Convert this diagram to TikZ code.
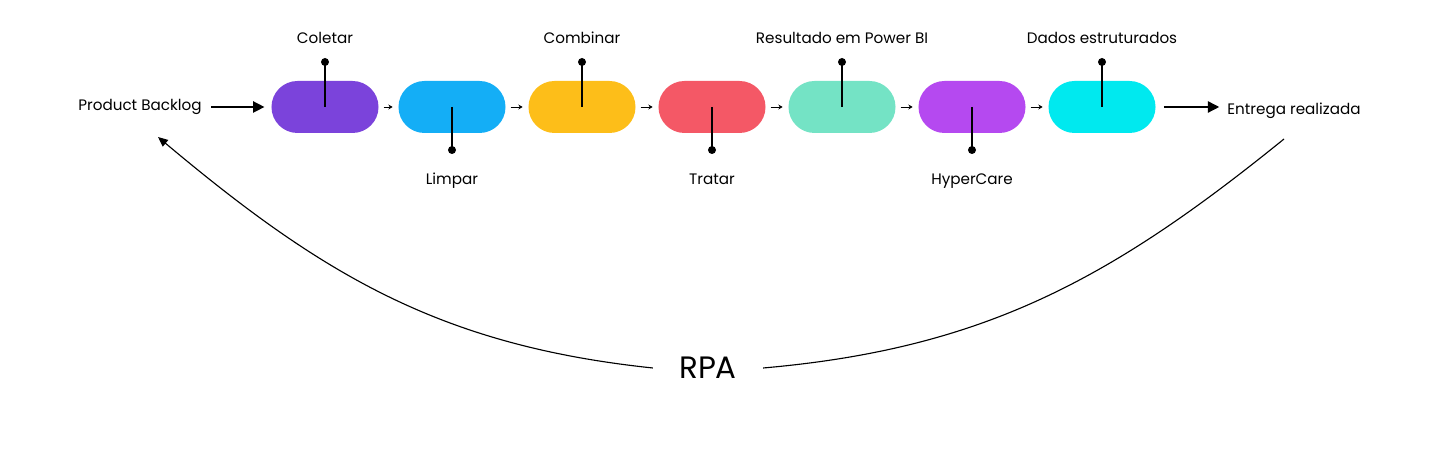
\documentclass[tikz,border=0pt]{standalone}
\usepackage{fontspec}
\setmainfont{Poppins}
\usetikzlibrary{arrows.meta,positioning}

\definecolor{stepA}{RGB}{123,67,219}
\definecolor{stepB}{RGB}{20,174,246}
\definecolor{stepC}{RGB}{253,190,25}
\definecolor{stepD}{RGB}{244,88,102}
\definecolor{stepE}{RGB}{116,227,197}
\definecolor{stepF}{RGB}{181,73,240}
\definecolor{stepG}{RGB}{0,233,239}

\tikzset{
  pill/.style={rectangle, rounded corners=0.65cm, minimum width=2.675cm, minimum height=1.3cm, inner sep=0pt},
  pindot/.style={circle, fill=black, inner sep=0pt, minimum size=0.2cm},
  pinline/.style={line width=0.9pt},
  lbl/.style={font=\fontsize{10.8}{13}\selectfont, text height=0.75em, text depth=0.25em},
  smallarrow/.style={-{Stealth[length=3pt,width=3.5pt]}, line width=0.6pt, shorten <=0.12cm, shorten >=0.14cm},
  bigarrow/.style={-{Triangle[length=8pt,width=8pt]}, line width=1pt},
  loop/.style={line width=0.8pt}
}

\begin{document}
\begin{tikzpicture}[x=0.025cm,y=0.025cm]
  \useasboundingbox (0,0) rectangle (1440,452);

  % Draw the steps
  \foreach \i/\x/\col in {1/325/stepA,2/452/stepB,3/582/stepC,4/712/stepD,5/842/stepE,6/972/stepF,7/1102/stepG} {
    \node[pill, fill=\col] (p\i) at (\x,345) {};
  }

  % Arrows between the steps
  \foreach \i/\j in {1/2,2/3,3/4,4/5,5/6,6/7} {
    \draw[smallarrow] (p\i.east) -- (p\j.west);
  }

  % Pins above
  \foreach \i/\txt in {1/Coletar,3/Combinar,5/Resultado em Power BI,7/Dados estruturados} {
    \node[pindot] (d\i) at (p\i |- 0,390) {};
    \draw[pinline] (p\i.center) -- (d\i.center);
    \node[lbl] (t\i) at (p\i |- 0,412) {\txt};
  }

  % Pins below
  \foreach \i/\txt in {2/Limpar,4/Tratar,6/HyperCare} {
    \node[pindot] (d\i) at (p\i |- 0,302) {};
    \draw[pinline] (p\i.center) -- (d\i.center);
    \node[lbl] (t\i) at (p\i |- 0,271) {\txt};
  }

  % Start and end
  \node[lbl] (pb) at (140,345) {Product Backlog};
  \node[lbl] (er) at (1294,341) {Entrega realizada};
  \draw[bigarrow, shorten <=0.12cm, shorten >=0.17cm] (pb.east |- p1) -- (p1.west);
  \draw[bigarrow, shorten <=0.2cm, shorten >=0.08cm] (p7.east) -- (er.west |- p7);

  % RPA loop
  \node[font=\fontsize{22}{26}\selectfont, inner xsep=0.65cm] (rpa) at (708,84) {RPA};
  \coordinate (back) at (158,315);
  \coordinate (fwd) at (1284,313);
  \draw[loop, -{Triangle[length=7pt,width=6pt]}] (rpa.west) to[out=174,in=-40] (back);
  \draw[loop] (rpa.east) to[out=5,in=219] (fwd);
\end{tikzpicture}
\end{document}
